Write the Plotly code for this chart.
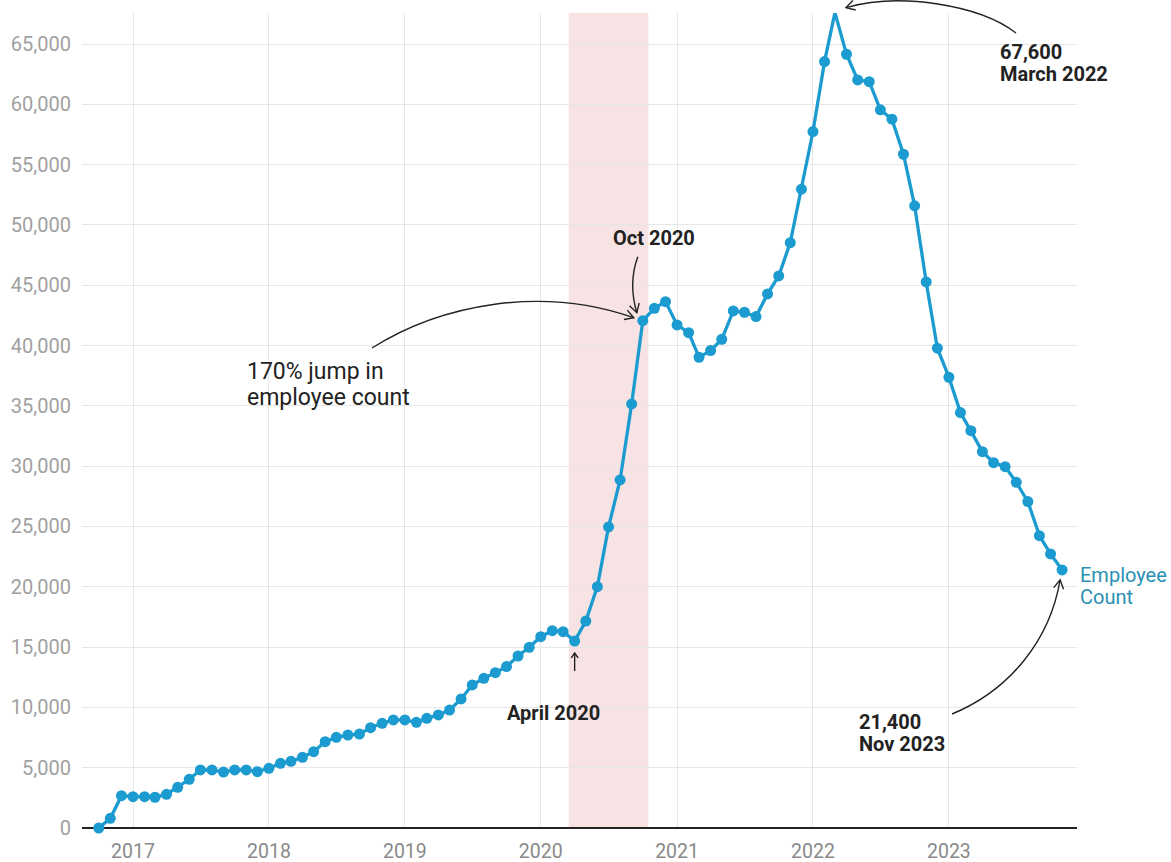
import math
import pandas as pd
import plotly.graph_objects as go

# Monthly employee count, October 2016 through November 2023
first_month = "2016-10-01"
employees = [
    0, 800, 2680,
    2600, 2600, 2550, 2790, 3370, 4040, 4810, 4810, 4640, 4810, 4810, 4670,
    4950, 5360, 5530, 5860, 6330, 7160, 7520, 7710, 7790, 8320, 8680, 8960,
    8960, 8760, 9090, 9370, 9780, 10700, 11860, 12410, 12880, 13380, 14260, 14980,
    15860, 16360, 16280, 15500, 17160, 20010, 24960, 28860, 35160, 42060, 43090, 43640,
    41710, 41070, 39030, 39580, 40520, 42870, 42760, 42400, 44280, 45770, 48530, 52960,
    57740, 63540, 67600, 64150, 62020, 61880, 59540, 58770, 55860, 51580, 45270, 39780,
    37370, 34440, 32940, 31200, 30290, 29960, 28660, 27060, 24240, 22720, 21400,
]
months = pd.date_range(first_month, periods=len(employees), freq="MS")

year_ticks = ["2017-01-01", "2018-01-01", "2019-01-01", "2020-01-01",
              "2021-01-01", "2022-01-01", "2023-01-01"]
year_labels = ["2017", "2018", "2019", "2020", "2021", "2022", "2023"]
y_ticks = [0, 5000, 10000, 15000, 20000, 25000, 30000, 35000, 40000, 45000,
           50000, 55000, 60000, 65000]

shade_start, shade_end = "2020-03-16", "2020-10-16"

BLUE = "#1b9bcf"
INK = "#222222"
FONT = "Roboto"

# figure geometry
FW, FH = 1171, 862
ML, MR, MT, MB = 82, 94, 13, 34
PW, PH = FW - ML - MR, FH - MT - MB
X0, X1 = pd.Timestamp("2016-08-17"), pd.Timestamp("2023-12-11")
Y0, Y1 = 0, 67570


def xpix(d):
    return ML + (pd.Timestamp(d) - X0) / (X1 - X0) * PW


def ypix(v):
    return MT + (1 - (v - Y0) / (Y1 - Y0)) * PH


def paper(xp, yp):
    return (xp - ML) / PW, 1 - (yp - MT) / PH


def ppath(cmds):
    """Build an SVG path in paper units from pixel-space commands."""
    out = []
    for c in cmds:
        op, pts = c[0], c[1:]
        coords = " ".join("%.5f,%.5f" % paper(x, y) for x, y in pts)
        out.append(op + coords)
    return " ".join(out)


def point_px(month):
    i = list(months).index(pd.Timestamp(month))
    return xpix(months[i]), ypix(employees[i])


def arrow_head(tip, frm, length=10, ang=30):
    dx, dy = tip[0] - frm[0], tip[1] - frm[1]
    n = math.hypot(dx, dy)
    ux, uy = dx / n, dy / n
    arms = []
    for s in (-1, 1):
        a = math.radians(ang) * s
        rx = ux * math.cos(a) - uy * math.sin(a)
        ry = ux * math.sin(a) + uy * math.cos(a)
        arms.append((tip[0] - length * rx, tip[1] - length * ry))
    return ppath([("M", arms[0]), ("L", tip), ("L", arms[1])])


fig = go.Figure()

fig.add_vrect(x0=shade_start, x1=shade_end, fillcolor="#f7e3e3", opacity=1,
              line_width=0, layer="below")

fig.add_trace(go.Scatter(
    x=months, y=employees, mode="lines+markers",
    line=dict(color=BLUE, width=3.3),
    marker=dict(color=BLUE, size=11),
    cliponaxis=False, showlegend=False,
    hovertemplate="%{x|%b %Y}: %{y:,}<extra></extra>",
))

shapes = []
line_style = dict(color=INK, width=1.4)


def curve(p0, c1, c2, p3):
    shapes.append(dict(type="path", xref="paper", yref="paper",
                       path=ppath([("M", p0), ("C", c1, c2, p3)]),
                       line=line_style, layer="above"))
    shapes.append(dict(type="path", xref="paper", yref="paper",
                       path=arrow_head(p3, c2), line=line_style, layer="above"))


# Oct 2020 label arrow
ox, oy = point_px("2020-10-01")
curve((ox - 5, oy - 64), (ox - 12, oy - 45), (ox - 11, oy - 25), (ox - 6, oy - 8))
# 170% jump arrow
curve((372, 348), (440, 305), (540, 285), (ox - 9, oy - 3))
# March 2022 peak arrow
mx, my = point_px("2022-03-01")
curve((1016, 33), (980, 5), (900, -8), (mx + 11, my - 5))
# Nov 2023 arrow
nx, ny = point_px("2023-11-01")
curve((952, 714), (1010, 690), (1050, 640), (nx - 2, ny + 10))
# April 2020 straight arrow
ax_, ay_ = point_px("2020-04-01")
shapes.append(dict(type="path", xref="paper", yref="paper",
                   path=ppath([("M", (ax_, ay_ + 30)), ("L", (ax_, ay_ + 12))]),
                   line=line_style))
shapes.append(dict(type="path", xref="paper", yref="paper",
                   path=arrow_head((ax_, ay_ + 12), (ax_, ay_ + 30), length=6, ang=35),
                   line=line_style))

annotations = []


def label(text, xp, yp, size, color=INK, bold=False, xanchor="left"):
    px_, py_ = paper(xp, yp)
    annotations.append(dict(
        x=px_, y=py_, xref="paper", yref="paper", showarrow=False,
        text="<b>%s</b>" % text if bold else text,
        xanchor=xanchor, yanchor="middle",
        font=dict(family=FONT, size=size, color=color)))


label("Oct 2020", 654, 238, 20, bold=True, xanchor="center")
label("170% jump in", 245, 371, 23)
label("employee count", 245, 398, 23)
label("April 2020", 553, 713, 20, bold=True, xanchor="center")
label("67,600", 998, 52, 20, bold=True)
label("March 2022", 998, 74, 20, bold=True)
label("21,400", 857, 722, 20, bold=True)
label("Nov 2023", 857, 744, 20, bold=True)
label("Employee", 1078, 575, 20, color="#2a90b4")
label("Count", 1078, 597, 20, color="#2a90b4")

fig.update_layout(
    width=FW, height=FH,
    margin=dict(l=ML, r=MR, t=MT, b=MB, autoexpand=False),
    paper_bgcolor="white", plot_bgcolor="white",
    font=dict(family=FONT),
    shapes=list(fig.layout.shapes) + shapes,
    annotations=annotations,
    xaxis=dict(
        type="date", range=[X0, X1], automargin=False,
        tickvals=year_ticks, ticktext=year_labels,
        showgrid=True, gridcolor="#e6e6e6", gridwidth=1,
        showline=False, zeroline=False,
        ticks="outside", ticklen=6, tickcolor="rgba(0,0,0,0)",
        tickfont=dict(family=FONT, size=19.5, color="#8a8a8a"),
    ),
    yaxis=dict(
        range=[Y0, Y1], tickvals=y_ticks, tickformat=",", automargin=False,
        showgrid=True, gridcolor="#e6e6e6", gridwidth=1,
        zeroline=True, zerolinecolor="#222222", zerolinewidth=1.5,
        showline=False,
        ticks="outside", ticklen=6, tickcolor="rgba(0,0,0,0)",
        tickfont=dict(family=FONT, size=20, color="#a0a0a0"),
    ),
)

fig.write_html("out.html")
